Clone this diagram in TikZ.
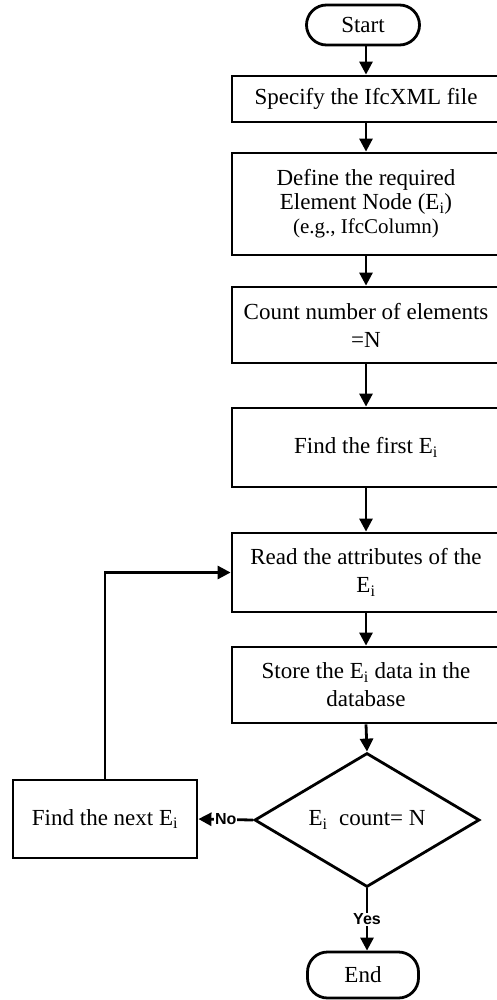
\documentclass[tikz,border=0pt]{standalone}
\usepackage{fontspec}
\setmainfont{Liberation Serif}
\newfontfamily\labelfont{Liberation Sans}
\usetikzlibrary{arrows.meta,shapes.geometric}
\tikzset{
  box/.style={draw, line width=2.8pt, rectangle, align=center, inner sep=2pt,
    font=\fontsize{23}{28}\selectfont, minimum width=268pt},
  term/.style={draw, line width=2.8pt, rectangle, rounded corners=20pt, align=center,
    font=\fontsize{23}{28}\selectfont},
  decision/.style={draw, line width=2.8pt, diamond, aspect=1.68, inner sep=0pt,
    font=\fontsize{23}{28}\selectfont},
  flow/.style={line width=2.8pt, -{Triangle[length=13pt,width=13pt]}},
  lbl/.style={font=\labelfont\bfseries\fontsize{16}{18}\selectfont, fill=white, inner sep=1pt}
}
\begin{document}
\begin{tikzpicture}[x=1pt,y=-1pt]
\useasboundingbox (0,0) rectangle (496,1000);
\node[term, minimum width=113pt, minimum height=40pt] (start) at (363,25) {Start};
\node[box, minimum height=46pt] (spec) at (366,99) {Specify the IfcXML file};
\node[box, minimum height=102pt, font=\fontsize{23}{24}\selectfont] (def) at (366,204) {Define the required\\Element Node (E\textsubscript{i})\\{\fontsize{21}{24}\selectfont (e.g., IfcColumn)}};
\node[box, minimum height=76pt] (count) at (366,325) {Count number of elements\\=N};
\node[box, minimum height=79pt] (first) at (366,447.5) {Find the first E\textsubscript{i}};
\node[box, minimum height=79pt] (read) at (366,572.5) {Read the attributes of the\\E\textsubscript{i}};
\node[box, minimum height=76pt] (store) at (366,685) {Store the E\textsubscript{i} data in the\\database};
\node[decision, minimum width=225pt, minimum height=134pt] (dec) at (367,820) {E\textsubscript{i}\ \ count= N};
\node[box, minimum width=184pt, minimum height=78pt] (next) at (105,819) {Find the next E\textsubscript{i}};
\node[term, minimum width=111pt, minimum height=46pt] (end) at (363,975) {End};
\draw[flow] (start.south -| spec.north) -- (spec.north);
\draw[flow] (spec) -- (def);
\draw[flow] (def) -- (count);
\draw[flow] (count) -- (first);
\draw[flow] (first) -- (read);
\draw[flow] (read) -- (store);
\draw[flow] (store.south) -- (dec.north);
\draw[flow] (dec.west) -- node[lbl] {No} (next.east);
\draw[flow] (dec.south) -- node[lbl] {Yes} (dec.south |- end.north);
\draw[flow] (next.north) |- (read.west);
\end{tikzpicture}
\end{document}
